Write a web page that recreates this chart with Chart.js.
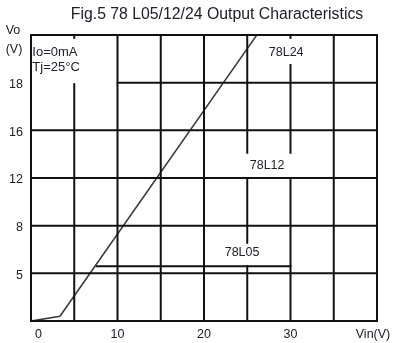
<!DOCTYPE html>
<html>
<head>
<meta charset="utf-8">
<script src="https://cdn.jsdelivr.net/npm/chart.js@4/dist/chart.umd.min.js"></script>
<style>
  html, body { margin: 0; padding: 0; background: #fff; }
  #wrap { width: 395px; height: 343px; }
</style>
</head>
<body>
<div id="wrap"><canvas id="chart" width="395" height="343"></canvas></div>
<script>
// the Vo axis is drawn as evenly spaced rows, labelled with uneven voltages
const yTickRows = [1, 2, 3, 4, 5]
const yTickLabels = ['5', '8', '12', '16', '18']
const xTickValues = [0, 10, 20, 30]
const xTickLabels = ['0', '10', '20', '30']

// output curve, Vin in volts, Vo in grid rows
const curveVin = [0, 3.35, 26.1]
const curveVo = [0, 0.1, 6]

// grid pieces: [x, yFrom, yTo] for verticals, [y, xFrom, xTo] for horizontals
const verticalLines = [
  [0, 0, 6],
  [5, 0, 4.97], [5, 5.94, 6],
  [10, 0, 6],
  [15, 0, 6],
  [20, 0, 6],
  [25, 0, 1.15], [25, 1.64, 3], [25, 3.53, 6],
  [30, 0, 3], [30, 3.53, 5.37], [30, 5.94, 6],
  [35, 0, 6],
  [40, 0, 6]
]
const horizontalLines = [
  [0, 0, 40],
  [1, 0, 40],
  [1.15, 7.6, 30],
  [2, 0, 40],
  [3, 0, 40],
  [4, 0, 40],
  [5, 10, 40],
  [6, 0, 40]
]

// labels placed in data units: [text, vin, row]
const seriesLabels = [
  ['78L24', 29.5, 5.64],
  ['78L12', 27.3, 3.27],
  ['78L05', 24.4, 1.43]
]
const conditionLabels = [
  ['Io=0mA', 0.15, 5.64],
  ['Tj=25°C', 0.15, 5.32]
]

const titleText = 'Fig.5 78 L05/12/24 Output Characteristics'
const textColor = '#20202a'
const fontName = '"Liberation Sans", Arial, sans-serif'

const datasets = []
verticalLines.forEach(([x, y0, y1]) => {
  datasets.push({ data: [{ x, y: y0 }, { x, y: y1 }], borderColor: '#111', borderWidth: 2 })
})
horizontalLines.forEach(([y, x0, x1]) => {
  datasets.push({ data: [{ x: x0, y }, { x: x1, y }], borderColor: '#111', borderWidth: 2 })
})
datasets.push({
  data: curveVin.map((x, i) => ({ x, y: curveVo[i] })),
  borderColor: '#3a3a3a',
  borderWidth: 1.6
})

const textPlugin = {
  id: 'texts',
  afterDatasetsDraw(chart) {
    const ctx = chart.ctx
    const xs = chart.scales.x
    const ys = chart.scales.y
    ctx.save()
    ctx.fillStyle = textColor
    ctx.textBaseline = 'middle'

    ctx.font = '15.8px ' + fontName
    ctx.textAlign = 'center'
    ctx.fillText(titleText, 217, 15)

    ctx.font = '12.5px ' + fontName
    ctx.textAlign = 'right'
    yTickRows.forEach((row, i) => {
      ctx.fillText(yTickLabels[i], 23, ys.getPixelForValue(row) + 2)
    })
    ctx.textAlign = 'center'
    ctx.fillText('Vo', 13, 31)
    ctx.fillText('(V)', 14, 50)

    xTickValues.forEach((v, i) => {
      const px = xs.getPixelForValue(v)
      if (i === 0) {
        ctx.textAlign = 'left'
        ctx.fillText(xTickLabels[i], px + 4, 335)
      } else {
        ctx.textAlign = 'center'
        ctx.fillText(xTickLabels[i], px, 335)
      }
    })
    ctx.textAlign = 'center'
    ctx.fillText('Vin(V)', xs.getPixelForValue(40) - 4, 335)

    seriesLabels.forEach(([t, x, y]) => {
      ctx.fillText(t, xs.getPixelForValue(x), ys.getPixelForValue(y))
    })

    ctx.font = '13px ' + fontName
    ctx.textAlign = 'left'
    conditionLabels.forEach(([t, x, y]) => {
      ctx.fillText(t, xs.getPixelForValue(x), ys.getPixelForValue(y))
    })
    ctx.restore()
  }
}

new Chart(document.getElementById('chart'), {
  type: 'line',
  data: { datasets },
  options: {
    responsive: false,
    animation: false,
    events: [],
    layout: { padding: { left: 31, right: 18, top: 35, bottom: 22 } },
    elements: {
      point: { radius: 0 },
      line: { tension: 0, borderCapStyle: 'square' }
    },
    datasets: { line: { clip: false, fill: false } },
    scales: {
      x: { type: 'linear', min: 0, max: 40, display: false },
      y: { type: 'linear', min: 0, max: 6, display: false }
    },
    plugins: {
      legend: { display: false },
      tooltip: { enabled: false }
    }
  },
  plugins: [textPlugin]
})
</script>
</body>
</html>
